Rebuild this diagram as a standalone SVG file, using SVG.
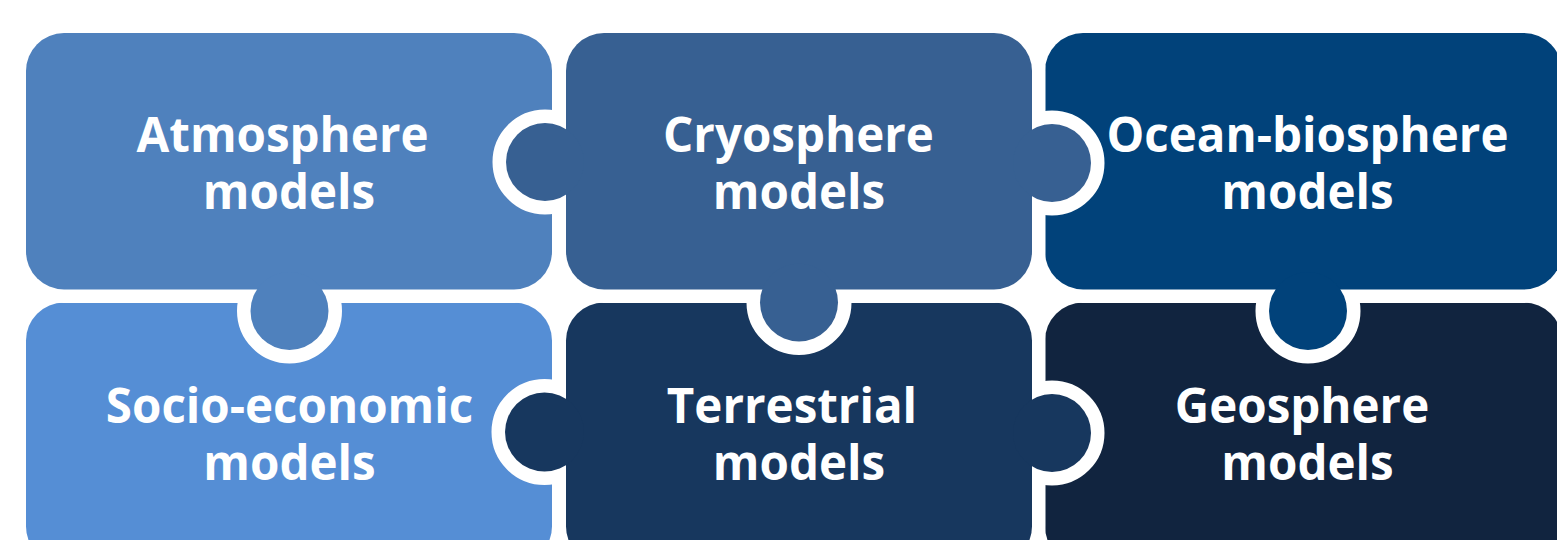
<svg xmlns="http://www.w3.org/2000/svg" width="1557" height="540" viewBox="0 0 1557 540">
  <style>
    .cut rect, .cut circle { fill: #ffffff; stroke: #ffffff; stroke-width: 27; }
    .label { font-family: "Open Sans", "Noto Sans", "Liberation Sans", sans-serif; font-weight: 700; font-size: 47.5px; fill: #ffffff; text-anchor: middle; }
  </style>
  <rect width="1557" height="540" fill="#ffffff"/>

  <!-- no separate connectors: pieces interlock through their knobs -->
  <g id="connectors"/>

  <!-- Socio-economic (plain piece) -->
  <g id="node-socio-economic">
    <rect x="26" y="302.5" width="526" height="262" rx="38" fill="#558ED5"/>
    <text class="label" x="289.5" y="422.5">Socio-economic</text>
    <text class="label" x="289.5" y="480">models</text>
  </g>

  <!-- Geosphere (plain piece) -->
  <g id="node-geosphere">
    <rect x="1045" y="302.5" width="517" height="262" rx="38" fill="#11243F"/>
    <text class="label" x="1302" y="422.5">Geosphere</text>
    <text class="label" x="1307.5" y="480">models</text>
  </g>

  <!-- Atmosphere: knob down into Socio-economic -->
  <g id="node-atmosphere">
    <g class="cut">
      <rect x="26" y="33" width="526" height="256.5" rx="38"/>
      <circle cx="289.5" cy="311" r="39"/>
    </g>
    <g fill="#4F81BD">
      <rect x="26" y="33" width="526" height="256.5" rx="38"/>
      <circle cx="289.5" cy="311" r="39"/>
    </g>
    <text class="label" x="282.5" y="151.7">Atmosphere</text>
    <text class="label" x="289" y="209.3">models</text>
  </g>

  <!-- Ocean-biosphere: knob down into Geosphere -->
  <g id="node-ocean-biosphere">
    <g class="cut">
      <rect x="1045" y="33" width="517" height="256.5" rx="38"/>
      <circle cx="1308" cy="311" r="39"/>
    </g>
    <g fill="#01427A">
      <rect x="1045" y="33" width="517" height="256.5" rx="38"/>
      <circle cx="1308" cy="311" r="39"/>
    </g>
    <text class="label" x="1307.5" y="151.7">Ocean-biosphere</text>
    <text class="label" x="1307.5" y="209.3">models</text>
  </g>

  <!-- Terrestrial: knobs left and right -->
  <g id="node-terrestrial">
    <g class="cut">
      <rect x="566" y="302.5" width="466" height="262" rx="38"/>
      <circle cx="544.5" cy="432" r="39.5"/>
      <circle cx="1052" cy="433" r="39"/>
    </g>
    <g fill="#17375E">
      <rect x="566" y="302.5" width="466" height="262" rx="38"/>
      <circle cx="544.5" cy="432" r="39.5"/>
      <circle cx="1052" cy="433" r="39"/>
    </g>
    <text class="label" x="792" y="422.5">Terrestrial</text>
    <text class="label" x="799" y="480">models</text>
  </g>

  <!-- Cryosphere: knobs left, right and down -->
  <g id="node-cryosphere">
    <g class="cut">
      <rect x="566" y="33" width="466" height="256.5" rx="38"/>
      <circle cx="545" cy="162" r="39"/>
      <circle cx="1052" cy="163" r="39"/>
      <circle cx="799" cy="302.5" r="39"/>
    </g>
    <g fill="#376092">
      <rect x="566" y="33" width="466" height="256.5" rx="38"/>
      <circle cx="545" cy="162" r="39"/>
      <circle cx="1052" cy="163" r="39"/>
      <circle cx="799" cy="302.5" r="39"/>
    </g>
    <text class="label" x="798.5" y="151.7">Cryosphere</text>
    <text class="label" x="799" y="209.3">models</text>
  </g>
</svg>
